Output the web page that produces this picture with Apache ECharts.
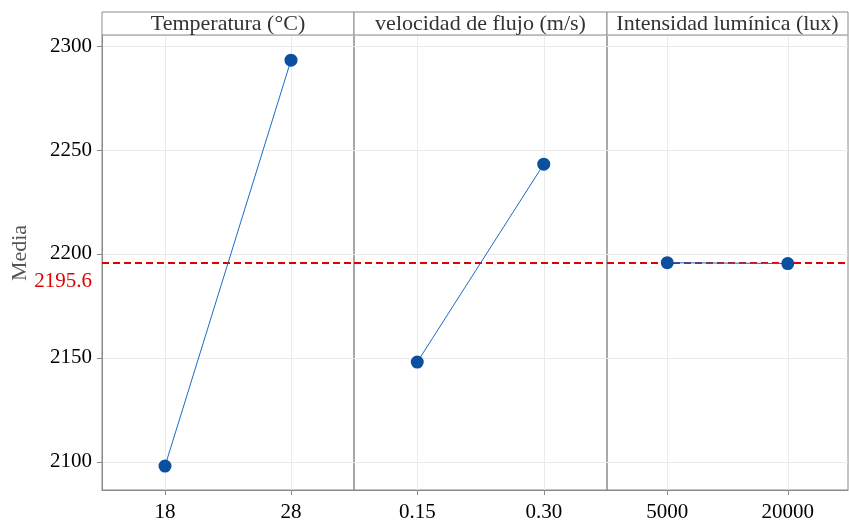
<!DOCTYPE html>
<html>
<head>
<meta charset="utf-8">
<script src="https://cdn.jsdelivr.net/npm/echarts@6/dist/echarts.min.js"></script>
<style>html,body{margin:0;padding:0;background:#fff;}#main{width:849px;height:521px;}</style>
</head>
<body>
<div id="main"></div>
<script>
const panelTitles = ['Temperatura (°C)', 'velocidad de flujo (m/s)', 'Intensidad lumínica (lux)'];
const tempLevels = ['18', '28'];
const tempMeans = [2098.0, 2293.2];
const flowLevels = ['0.15', '0.30'];
const flowMeans = [2148.0, 2243.2];
const luxLevels = ['5000', '20000'];
const luxMeans = [2195.8, 2195.4];
const grandMean = 2195.6;
const yMin = 2086.5, yMax = 2305.3;

const levels = [tempLevels, flowLevels, luxLevels];
const means = [tempMeans, flowMeans, luxMeans];

const FONT = '"Liberation Serif", "Times New Roman", serif';
const panels = [
  {left: 102, width: 252},
  {left: 354, width: 253},
  {left: 607, width: 241}
];
const TOP = 35, BOTTOM = 490, STRIP_TOP = 12;
const borderColor = '#8a8a8a';
const gridColor = '#ebebeb';

const chart = echarts.init(document.getElementById('main'), null, {renderer: 'canvas'});

const grids = panels.map(p => ({
  left: p.left, width: p.width, top: TOP, height: BOTTOM - TOP,
  show: true, borderColor: borderColor, borderWidth: 1, backgroundColor: 'transparent',
  containLabel: false, outerBoundsMode: 'none'
}));

const xAxes = levels.map((lv, i) => ({
  type: 'category', gridIndex: i, data: lv, boundaryGap: true,
  axisLine: {show: true, lineStyle: {color: borderColor, width: 1}},
  axisTick: {show: true, alignWithLabel: true, length: 5, lineStyle: {color: borderColor}},
  splitLine: {show: true, alignWithLabel: true, lineStyle: {color: gridColor, width: 1}},
  axisLabel: {color: '#000', fontFamily: FONT, fontSize: 21, margin: 12}
}));

const yAxes = levels.map((lv, i) => ({
  type: 'value', gridIndex: i, min: yMin, max: yMax,
  axisLine: {show: i === 0, lineStyle: {color: borderColor, width: 1}},
  axisTick: {show: i === 0, length: 5, lineStyle: {color: borderColor}},
  splitLine: {show: true, lineStyle: {color: gridColor, width: 1}},
  axisLabel: {show: i === 0, showMinLabel: false, showMaxLabel: false,
    formatter: v => String(v),
    color: '#000', fontFamily: FONT, fontSize: 21, margin: 10}
}));

const series = means.map((m, i) => ({
  type: 'line', xAxisIndex: i, yAxisIndex: i, data: m,
  symbol: 'circle', symbolSize: 13,
  itemStyle: {color: '#0b4f9f'},
  lineStyle: {color: '#1b6cc4', width: 1},
  z: 5,
  markLine: {
    silent: true, symbol: ['none', 'none'],
    label: {show: false},
    lineStyle: {color: '#e00000', type: [7, 4], width: 2},
    data: [{yAxis: grandMean}],
    z: 4
  }
}));

const graphics = [];
panels.forEach((p, i) => {
  graphics.push({
    type: 'rect', shape: {x: p.left, y: STRIP_TOP, width: p.width, height: TOP - STRIP_TOP},
    style: {fill: '#fff', stroke: borderColor, lineWidth: 1}, z: 10
  });
  graphics.push({
    type: 'text', x: p.left + p.width / 2, y: (STRIP_TOP + TOP) / 2 + 1,
    style: {text: panelTitles[i], font: '22px ' + FONT, fill: '#333', align: 'center', verticalAlign: 'middle'},
    z: 11
  });
});
graphics.push({
  type: 'text', x: 20, y: 253, rotation: Math.PI / 2,
  style: {text: 'Media', font: '22px ' + FONT, fill: '#555', align: 'center', verticalAlign: 'middle'},
  z: 11
});

chart.setOption({
  animation: false,
  backgroundColor: '#fff',
  grid: grids, xAxis: xAxes, yAxis: yAxes, series: series,
  graphic: graphics
});

const py = chart.convertToPixel({yAxisIndex: 0}, grandMean);
chart.setOption({
  graphic: graphics.concat([{
    type: 'text', x: 92, y: py + 18,
    style: {text: String(grandMean), font: '21px ' + FONT, fill: '#e00000', align: 'right', verticalAlign: 'middle'},
    z: 11
  }])
});
</script>
</body>
</html>
